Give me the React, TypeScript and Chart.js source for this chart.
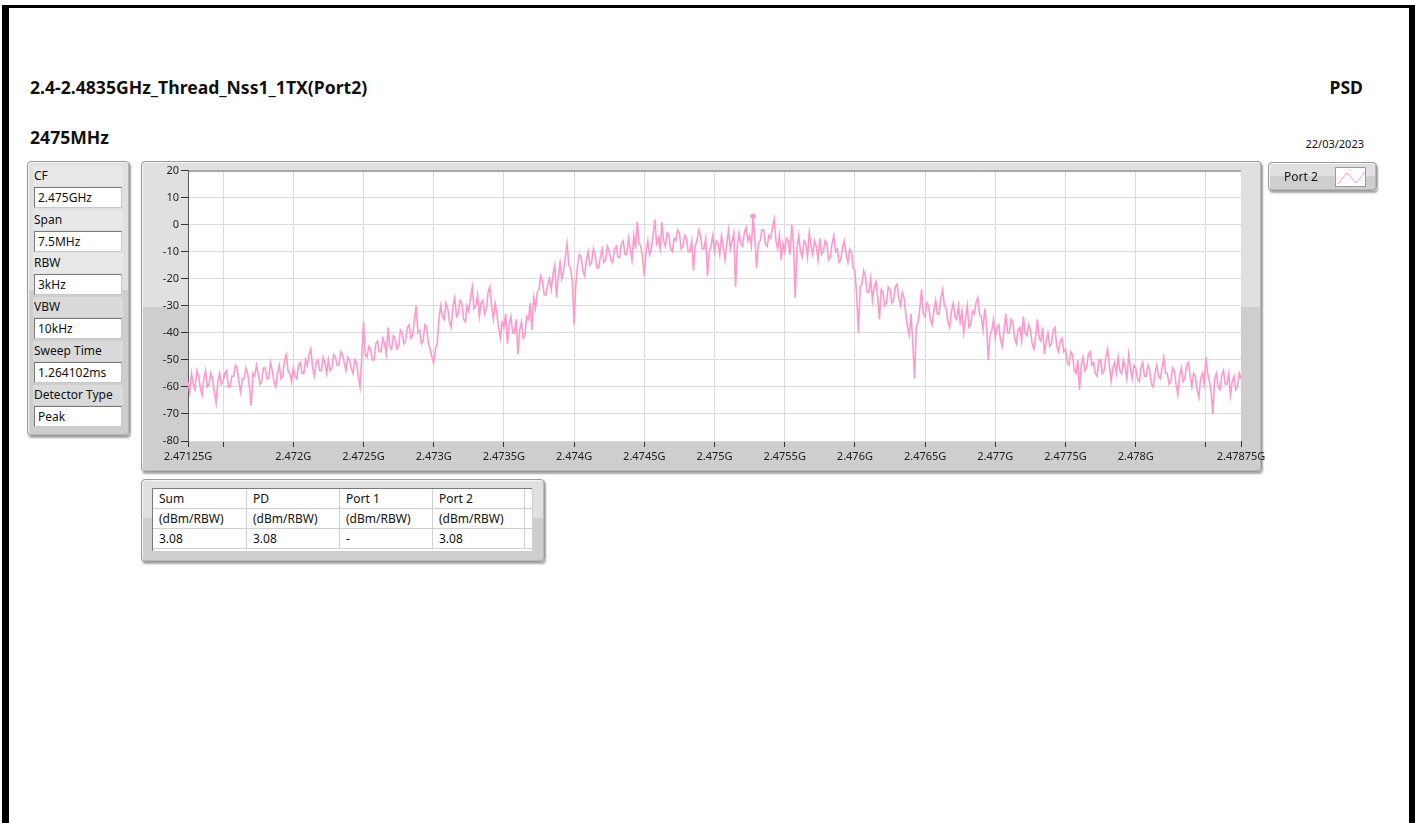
import React, { useEffect, useRef } from "react";
import { Chart, registerables } from "chart.js";

Chart.register(...registerables);

// ---- Sweep definition ----
const START_GHZ = 2.47125;
const STOP_GHZ = 2.47875;
const STEP_GHZ = 0.0000125;

// ---- PSD trace, dBm/RBW, one value per sweep bin ----
const PSD_DBM: number[] = [
  -58, -62, -55, -59, -61, -54, -56, -60, -63, -57, -54, -60, -59, -55, -57, -62, -66, -58, -55, -59,
  -58, -55, -54, -60, -60, -56, -56, -52, -53, -58, -62, -57, -57, -53, -55, -60, -67, -55, -56, -52,
  -55, -59, -58, -53, -53, -57, -57, -51, -54, -58, -60, -55, -52, -57, -56, -50, -48, -54, -55, -58,
  -53, -56, -57, -52, -51, -55, -55, -50, -52, -48, -46, -53, -56, -51, -50, -54, -54, -49, -51, -55,
  -50, -54, -53, -48, -49, -52, -52, -47, -48, -51, -54, -49, -50, -53, -55, -50, -51, -56, -60, -49,
  -36, -48, -49, -45, -46, -50, -50, -44, -43, -47, -47, -42, -44, -48, -38, -45, -46, -41, -42, -46,
  -45, -39, -40, -44, -43, -38, -37, -42, -41, -35, -30, -40, -39, -44, -43, -37, -38, -44, -46, -49,
  -51, -46, -44, -35, -30, -34, -35, -29, -31, -36, -38, -30, -27, -34, -33, -28, -29, -35, -36, -30,
  -32, -27, -23, -31, -30, -26, -34, -29, -28, -33, -31, -25, -23, -30, -35, -29, -33, -38, -42, -36,
  -38, -33, -44, -37, -34, -40, -40, -35, -48, -39, -36, -42, -41, -34, -35, -29, -39, -27, -31, -25,
  -24, -19, -21, -26, -26, -22, -20, -24, -18, -15, -27, -19, -14, -20, -17, -12, -7, -15, -16, -21,
  -37, -22, -15, -11, -12, -17, -19, -13, -10, -15, -14, -9, -11, -16, -16, -12, -9, -14, -13, -8,
  -10, -13, -14, -9, -8, -12, -12, -7, -6, -11, -11, -5, -9, -13, -4, -9, 1, -7, -8, -12,
  -19, -10, -6, -11, -9, -4, 2, -7, -5, -9, 1, -6, -8, -3, -4, -9, -10, -5, -6, -2,
  -3, -9, -8, -4, -5, -10, -10, -6, -17, -8, -6, -2, -4, -9, -9, -5, -19, -10, -8, -4,
  -10, -6, -7, -11, -4, -8, -13, -7, -2, -9, -6, -3, -23, -8, -3, -7, -8, -3, -1, -6,
  -4, -8, 3.08, -5, -16, -7, -6, -2, -2, -7, -8, -4, -5, -1, 2, -6, -9, -4, -13, -7,
  -10, -5, -6, -11, 0, -7, -27, -9, -4, -10, -12, -6, -7, -12, -3, -8, -11, -6, -8, -13,
  -5, -11, -10, -6, -7, -13, -12, -7, -4, -10, -9, -14, -13, -8, -6, -11, -14, -9, -10, -16,
  -17, -26, -40, -23, -22, -17, -19, -25, -25, -20, -28, -23, -21, -27, -35, -24, -25, -30, -29, -23,
  -24, -29, -28, -23, -22, -27, -30, -25, -27, -33, -38, -41, -33, -44, -57, -38, -36, -31, -24, -33,
  -34, -29, -30, -35, -37, -32, -28, -33, -33, -27, -24, -30, -31, -36, -38, -32, -29, -34, -35, -30,
  -36, -32, -40, -35, -30, -38, -37, -32, -33, -29, -27, -33, -34, -39, -31, -37, -50, -41, -39, -35,
  -42, -38, -37, -43, -45, -39, -33, -40, -40, -35, -36, -42, -44, -39, -38, -43, -34, -40, -41, -37,
  -39, -44, -46, -41, -35, -42, -43, -38, -48, -43, -40, -45, -44, -39, -38, -45, -47, -43, -42, -47,
  -46, -51, -52, -47, -48, -54, -55, -50, -61, -52, -49, -54, -53, -48, -47, -52, -51, -55, -56, -50,
  -50, -55, -54, -49, -46, -52, -58, -53, -51, -55, -49, -54, -55, -50, -53, -57, -48, -53, -57, -52,
  -53, -57, -58, -53, -51, -56, -56, -52, -54, -59, -60, -55, -52, -56, -57, -53, -49, -55, -55, -59,
  -58, -53, -54, -59, -63, -56, -53, -58, -57, -52, -51, -56, -60, -55, -56, -61, -64, -57, -55, -59,
  -49, -55, -58, -62, -70, -57, -55, -60, -61, -56, -54, -59, -59, -55, -63, -58, -56, -61, -60, -55,
  -57,
];

// ---- Axis ticks ----
const Y_TICKS = [20, 10, 0, -10, -20, -30, -40, -50, -60, -70, -80];
const X_TICKS_GHZ = [
  2.47125, 2.4715, 2.472, 2.4725, 2.473, 2.4735, 2.474, 2.4745, 2.475,
  2.4755, 2.476, 2.4765, 2.477, 2.4775, 2.478, 2.4785, 2.47875,
];
const X_TICK_LABELS = [
  "2.47125G", "", "2.472G", "2.4725G", "2.473G", "2.4735G", "2.474G", "2.4745G", "2.475G",
  "2.4755G", "2.476G", "2.4765G", "2.477G", "2.4775G", "2.478G", "", "2.47875G",
];

// ---- Texts ----
const TITLE = "2.4-2.4835GHz_Thread_Nss1_1TX(Port2)";
const SUBTITLE = "2475MHz";
const KIND = "PSD";
const DATE = "22/03/2023";
const SERIES_NAME = "Port 2";
const PARAM_LABELS = ["CF", "Span", "RBW", "VBW", "Sweep Time", "Detector Type"];
const PARAM_VALUES = ["2.475GHz", "7.5MHz", "3kHz", "10kHz", "1.264102ms", "Peak"];
const TABLE_HEADERS = ["Sum", "PD", "Port 1", "Port 2"];
const TABLE_UNITS = ["(dBm/RBW)", "(dBm/RBW)", "(dBm/RBW)", "(dBm/RBW)"];
const TABLE_VALUES = ["3.08", "3.08", "-", "3.08"];

const TRACE_COLOR = "#ff99cc";
const FONT = '"Noto Sans", "Open Sans", "DejaVu Sans", sans-serif';

const panelBg = "linear-gradient(#e0e0e0 0%, #e0e0e0 47%, #cecece 47%, #cecece 100%)";

function panel(l: number, t: number, w: number, h: number): React.CSSProperties {
  return {
    position: "absolute",
    left: l,
    top: t,
    width: w,
    height: h,
    boxSizing: "border-box",
    border: "1px solid #9a9a9a",
    borderRadius: 4,
    background: panelBg,
    boxShadow: "1px 2px 2px rgba(0,0,0,0.35), inset 1px 1px 0 #f4f4f4, inset -1px -1px 0 #b8b8b8",
  };
}

function PsdChart() {
  const ref = useRef<HTMLCanvasElement | null>(null);
  useEffect(() => {
    if (!ref.current) return;
    const points = PSD_DBM.map((v, i) => ({ x: START_GHZ + i * STEP_GHZ, y: v }));
    let pk = 0;
    PSD_DBM.forEach((v, i) => {
      if (v > PSD_DBM[pk]) pk = i;
    });
    const peak = [{ x: START_GHZ + pk * STEP_GHZ, y: PSD_DBM[pk] }];

    const plotBg = {
      id: "plotBg",
      beforeDraw(chart: any) {
        const { ctx, chartArea } = chart;
        ctx.save();
        ctx.fillStyle = "#ffffff";
        ctx.fillRect(chartArea.left, chartArea.top, chartArea.right - chartArea.left, chartArea.bottom - chartArea.top);
        ctx.restore();
      },
      afterDraw(chart: any) {
        const { ctx, chartArea } = chart;
        ctx.save();
        ctx.strokeStyle = "#6a6a6a";
        ctx.lineWidth = 1;
        ctx.beginPath();
        ctx.moveTo(chartArea.left, chartArea.top + 0.5);
        ctx.lineTo(chartArea.right, chartArea.top + 0.5);
        ctx.stroke();
        ctx.restore();
      },
    };

    const chart = new Chart(ref.current, {
      type: "line",
      data: {
        datasets: [
          {
            label: SERIES_NAME,
            data: points,
            borderColor: TRACE_COLOR,
            borderWidth: 1.6,
            pointRadius: 0,
            tension: 0,
            fill: false,
          },
          {
            type: "scatter",
            label: "peak",
            data: peak,
            pointRadius: 2.8,
            backgroundColor: TRACE_COLOR,
            borderColor: TRACE_COLOR,
            borderWidth: 0,
          } as any,
        ],
      },
      options: {
        animation: false,
        responsive: false,
        maintainAspectRatio: false,
        devicePixelRatio: 1,
        layout: { padding: { top: 8, right: 40, left: 0, bottom: 0 } },
        plugins: { legend: { display: false }, tooltip: { enabled: false } },
        scales: {
          x: {
            type: "linear",
            min: START_GHZ,
            max: STOP_GHZ,
            afterBuildTicks: (s: any) => {
              s.ticks = X_TICKS_GHZ.map((v) => ({ value: v }));
            },
            afterFit: (s: any) => {
              s.height = 30;
              s.paddingLeft = 0;
              s.paddingRight = 0;
            },
            ticks: {
              autoSkip: false,
              maxRotation: 0,
              minRotation: 0,
              padding: 3,
              color: "#1e1e1e",
              font: { family: FONT, size: 11 },
              callback: (_v: any, i: number) => X_TICK_LABELS[i],
            },
            grid: {
              color: (c: any) =>
                c.index === 0 || c.index === X_TICKS_GHZ.length - 1 ? "rgba(0,0,0,0)" : "#dcdcdc",
              tickColor: "#333333",
              tickLength: 6,
              lineWidth: 1,
            },
            border: { display: false },
          },
          y: {
            type: "linear",
            min: -80,
            max: 20,
            afterBuildTicks: (s: any) => {
              s.ticks = Y_TICKS.map((v) => ({ value: v }));
            },
            afterFit: (s: any) => {
              s.width = 47;
            },
            ticks: {
              padding: 2,
              color: "#1e1e1e",
              font: { family: FONT, size: 11 },
              callback: (v: any) => String(v),
            },
            grid: {
              color: "#dcdcdc",
              tickColor: "#333333",
              tickLength: 7,
              lineWidth: 1,
            },
            border: { display: true, color: "#5a5a5a", width: 1 },
          },
        },
      },
      plugins: [plotBg],
    } as any);
    return () => chart.destroy();
  }, []);
  return (
    <canvas
      ref={ref}
      width={1140}
      height={309}
      style={{ position: "absolute", left: 141, top: 162, width: 1140, height: 309 }}
    />
  );
}

export default function App() {
  const colW = [94, 93, 93, 92, 8];
  const colX: number[] = [];
  colW.reduce((acc, w) => {
    colX.push(acc);
    return acc + w;
  }, 0);
  const rowH = 20;
  const tableRows = [TABLE_HEADERS, TABLE_UNITS, TABLE_VALUES];

  return (
    <div
      style={{
        position: "fixed",
        left: 0,
        top: 0,
        width: 1415,
        height: 823,
        background: "#ffffff",
        overflow: "hidden",
        fontFamily: FONT,
        color: "#111",
      }}
    >
      {/* page frame */}
      <div
        style={{
          position: "absolute",
          left: 2,
          top: 5,
          width: 1413,
          height: 840,
          boxSizing: "border-box",
          borderLeft: "7px solid #000",
          borderTop: "3px solid #000",
          borderRight: "6px solid #000",
        }}
      />

      {/* headings */}
      <div style={{ position: "absolute", left: 30, top: 76, fontSize: 17.6, fontWeight: 700, lineHeight: "22px", whiteSpace: "nowrap" }}>
        {TITLE}
      </div>
      <div style={{ position: "absolute", right: 1415 - 1363, top: 76, fontSize: 17.6, fontWeight: 700, lineHeight: "22px" }}>
        {KIND}
      </div>
      <div style={{ position: "absolute", left: 30, top: 126, fontSize: 17.6, fontWeight: 700, lineHeight: "22px" }}>
        {SUBTITLE}
      </div>
      <div style={{ position: "absolute", right: 1415 - 1364, top: 136, fontSize: 11, lineHeight: "16px" }}>
        {DATE}
      </div>

      {/* parameter panel */}
      <div style={panel(27, 161, 103, 275)} />
      {PARAM_LABELS.map((lab, i) => (
        <React.Fragment key={lab}>
          <div
            style={{
              position: "absolute",
              left: 33,
              top: 166 + i * 43.7,
              width: 89,
              height: 20,
              fontSize: 12,
              lineHeight: "20px",
              paddingLeft: 1,
              background: "rgba(255,255,255,0.25)",
              whiteSpace: "nowrap",
            }}
          >
            {lab}
          </div>
          <div
            style={{
              position: "absolute",
              left: 34,
              top: 187 + i * 43.7,
              width: 88,
              height: 21,
              boxSizing: "border-box",
              background: "#fff",
              borderTop: "1px solid #7a7a7a",
              borderLeft: "1px solid #7a7a7a",
              borderRight: "1px solid #c8c8c8",
              borderBottom: "1px solid #c8c8c8",
              fontSize: 12,
              lineHeight: "19px",
              paddingLeft: 3,
              whiteSpace: "nowrap",
            }}
          >
            {PARAM_VALUES[i]}
          </div>
        </React.Fragment>
      ))}

      {/* chart panel */}
      <div style={panel(141, 161, 1121, 311)} />
      <PsdChart />

      {/* legend */}
      <div style={{ ...panel(1268, 162, 109, 29), zIndex: 2 }}>
        <div style={{ position: "absolute", left: 15, top: 4, fontSize: 12, lineHeight: "20px" }}>{SERIES_NAME}</div>
        <svg
          width={31}
          height={20}
          style={{ position: "absolute", left: 66, top: 4, background: "#fff", border: "1px solid #9a9a9a", boxSizing: "border-box" }}
        >
          <polyline points="2,16 11,5 20,15 29,4" fill="none" stroke={TRACE_COLOR} strokeWidth={1} />
        </svg>
      </div>

      {/* results table */}
      <div style={panel(141, 479, 404, 83)} />
      <div
        style={{
          position: "absolute",
          left: 152,
          top: 488,
          width: 380,
          height: 63,
          background: "#fff",
          borderTop: "1px solid #7a7a7a",
          borderLeft: "1px solid #7a7a7a",
          boxSizing: "border-box",
        }}
      >
        {tableRows.map((row, r) =>
          colW.map((w, c) => (
            <div
              key={`${r}-${c}`}
              style={{
                position: "absolute",
                left: colX[c],
                top: r * rowH,
                width: w,
                height: rowH,
                boxSizing: "border-box",
                borderRight: "1px solid #d0d0d0",
                borderBottom: "1px solid #d0d0d0",
                fontSize: 12,
                lineHeight: "19px",
                paddingLeft: 6,
                whiteSpace: "nowrap",
                overflow: "hidden",
              }}
            >
              {c < row.length ? row[c] : ""}
            </div>
          ))
        )}
      </div>
    </div>
  );
}
